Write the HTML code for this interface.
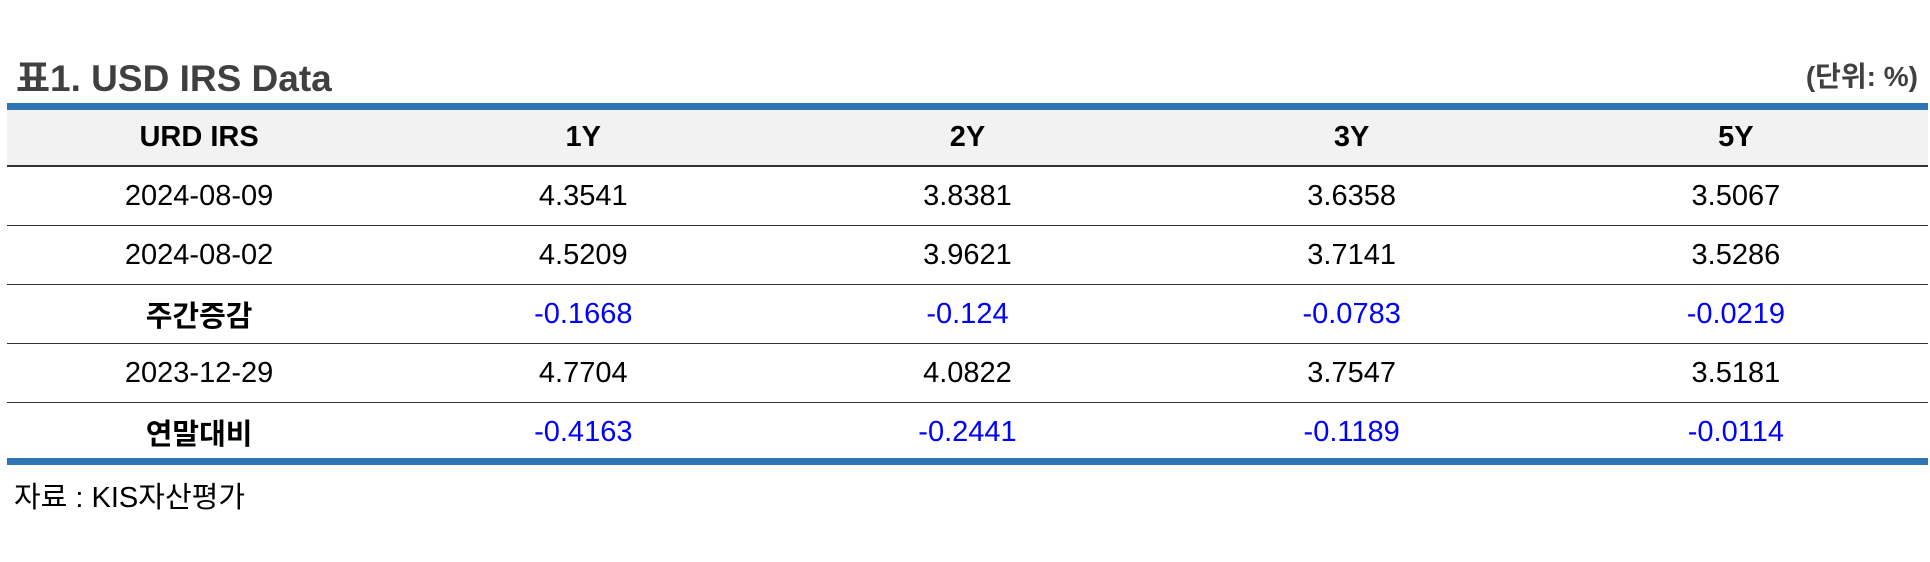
<!DOCTYPE html>
<html><head><meta charset="utf-8"><style>
body{margin:0;width:1930px;height:562px;background:#fff;position:relative;overflow:hidden;font-family:"Liberation Sans","Noto Sans CJK KR",sans-serif;}
.t{position:absolute;white-space:nowrap}
#title{left:16px;top:48px;font-size:37px;font-weight:bold;color:#404040;}
#unit{right:12px;top:55px;font-size:28px;font-weight:bold;color:#404040;}
.bar{position:absolute;left:7px;width:1921px;height:7px;background:#2e75b6;}
table{position:absolute;left:7px;top:110px;width:1921px;border-collapse:collapse;table-layout:fixed;}
td,th{text-align:center;font-size:29px;height:58px;padding:0;border-bottom:1.5px solid #333;color:#000;}
th{background:#f2f2f2;height:55px;border-bottom:2px solid #333;}
tr:last-child td{border-bottom:none;}
.b{font-weight:bold}
.neg{color:#0000ff}
#src{left:14px;top:474px;font-size:29px;color:#000;}
</style></head><body>
<div class="t" id="title">표1. USD IRS Data</div>
<div class="t" id="unit">(단위: %)</div>
<div class="bar" style="top:103px"></div>
<table>
<tr><th>URD IRS</th><th>1Y</th><th>2Y</th><th>3Y</th><th>5Y</th></tr>
<tr><td>2024-08-09</td><td>4.3541</td><td>3.8381</td><td>3.6358</td><td>3.5067</td></tr>
<tr><td>2024-08-02</td><td>4.5209</td><td>3.9621</td><td>3.7141</td><td>3.5286</td></tr>
<tr><td class="b">주간증감</td><td class="neg">-0.1668</td><td class="neg">-0.124</td><td class="neg">-0.0783</td><td class="neg">-0.0219</td></tr>
<tr><td>2023-12-29</td><td>4.7704</td><td>4.0822</td><td>3.7547</td><td>3.5181</td></tr>
<tr><td class="b">연말대비</td><td class="neg">-0.4163</td><td class="neg">-0.2441</td><td class="neg">-0.1189</td><td class="neg">-0.0114</td></tr>
</table>
<div class="bar" style="top:458px"></div>
<div class="t" id="src">자료 : KIS자산평가</div>
</body></html>
